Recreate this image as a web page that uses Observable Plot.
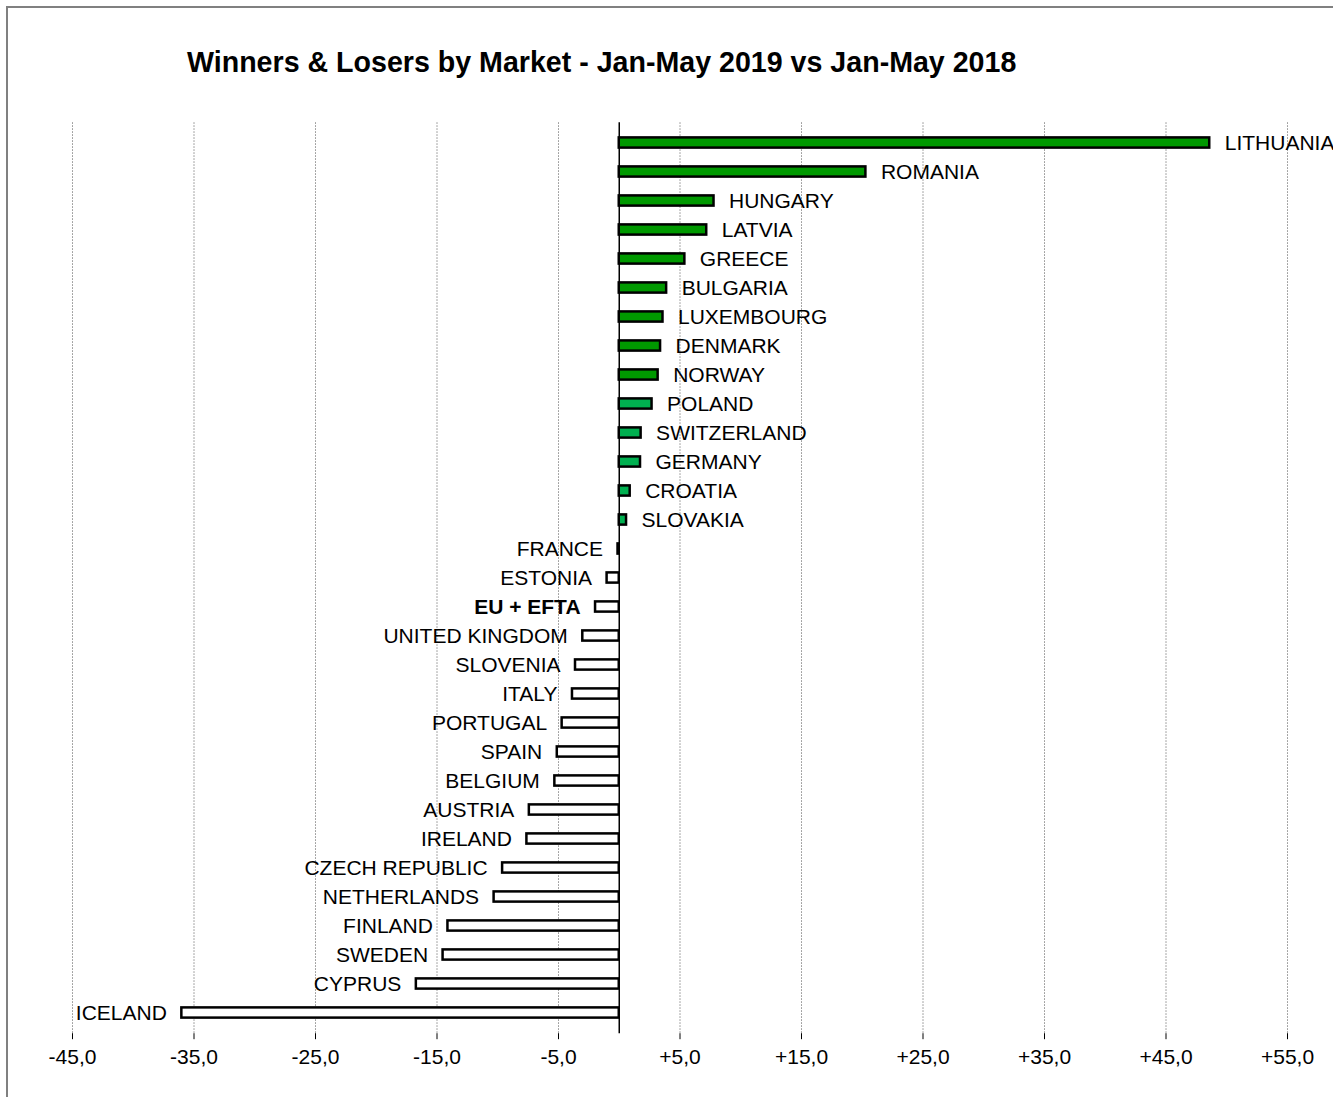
<!DOCTYPE html>
<html><head><meta charset="utf-8">
<script src="https://cdn.jsdelivr.net/npm/d3@7"></script>
<script src="https://cdn.jsdelivr.net/npm/@observablehq/plot@0.6"></script>
<style>
body{margin:0;background:#fff;}
#wrap{position:relative;width:1333px;height:1097px;overflow:hidden;font-family:"Liberation Sans",Arial,sans-serif;background:#fff;}
#frame{position:absolute;left:6px;top:6px;width:1400px;height:1200px;border-left:2px solid #808080;border-top:2px solid #808080;z-index:2;pointer-events:none;}
#title{position:absolute;left:187px;top:48px;font-weight:bold;font-size:28.6px;line-height:1;white-space:nowrap;z-index:3;color:#000;}
#chart{position:absolute;left:0;top:0;z-index:1;}
</style>
</head><body>
<div id="wrap">
  <div id="frame"></div>
  <div id="title">Winners &amp; Losers by Market - Jan-May 2019 vs Jan-May 2018</div>
  <div id="chart"></div>
</div>
<script>
const countries = ["LITHUANIA","ROMANIA","HUNGARY","LATVIA","GREECE","BULGARIA","LUXEMBOURG","DENMARK","NORWAY","POLAND","SWITZERLAND","GERMANY","CROATIA","SLOVAKIA","FRANCE","ESTONIA","EU + EFTA","UNITED KINGDOM","SLOVENIA","ITALY","PORTUGAL","SPAIN","BELGIUM","AUSTRIA","IRELAND","CZECH REPUBLIC","NETHERLANDS","FINLAND","SWEDEN","CYPRUS","ICELAND"];
const changes = [48.6,20.3,7.8,7.2,5.4,3.9,3.6,3.4,3.2,2.7,1.8,1.75,0.9,0.6,-0.1,-1.0,-1.95,-3.0,-3.6,-3.85,-4.7,-5.1,-5.3,-7.4,-7.6,-9.6,-10.3,-14.1,-14.5,-16.7,-36.0];
const xTicks = [-45,-35,-25,-15,-5,5,15,25,35,45,55];
const totalLabel = "EU + EFTA";

const data = countries.map((c, i) => ({country: c, value: changes[i]}));
const fillFor = d => d.value >= 3 ? "#009900" : d.value > 0 ? "#00b050" : "#ffffff";
const fmt = d => (d > 0 ? "+" : "") + d.toFixed(1).replace(".", ",");
const font = "'Liberation Sans', Arial, sans-serif";

const plot = Plot.plot({
  width: 1333,
  height: 1097,
  marginTop: 122.3,
  marginBottom: 63.8,
  marginLeft: 72,
  marginRight: 46,
  style: {fontFamily: font, background: "none", overflow: "visible", color: "#000"},
  x: {domain: [-45, 55]},
  y: {type: "band", domain: countries, padding: 0, axis: null},
  marks: [
    Plot.gridX(xTicks, {stroke: "#8a8a8a", strokeOpacity: 1, strokeWidth: 1, strokeDasharray: "1.5,1.5"}),
    Plot.ruleX([0], {stroke: "#000", strokeWidth: 1.5}),
    Plot.barX(data, {x: "value", y: "country", fill: fillFor, stroke: "#000", strokeWidth: 2.5, insetTop: 9.4, insetBottom: 9.4}),
    Plot.text(data.filter(d => d.value > 0), {x: "value", y: "country", text: "country", textAnchor: "start", dx: 15, fontSize: 21, fill: "#000"}),
    Plot.text(data.filter(d => d.value <= 0 && d.country !== totalLabel), {x: "value", y: "country", text: "country", textAnchor: "end", dx: -15, fontSize: 21, fill: "#000"}),
    Plot.text(data.filter(d => d.country === totalLabel), {x: "value", y: "country", text: "country", textAnchor: "end", dx: -15, fontSize: 21, fontWeight: "bold", fill: "#000"}),
    Plot.axisX(xTicks, {tickFormat: fmt, tickSize: 6, tickPadding: 9, fontSize: 21, stroke: "#000", fill: "#000", label: null}),
    Plot.ruleY([0], {frameAnchor: "bottom", stroke: "#000", strokeWidth: 1.5})
  ]
});
document.getElementById("chart").appendChild(plot);
</script>
</body></html>
